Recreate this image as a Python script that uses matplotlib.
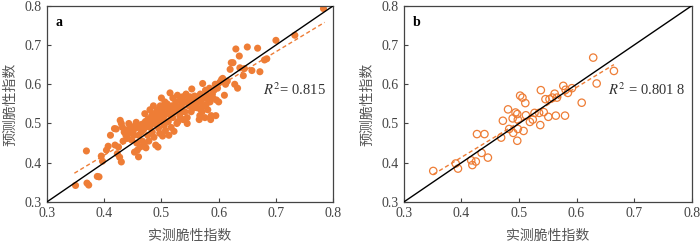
import numpy as np
import matplotlib.pyplot as plt

plt.rcParams['font.family'] = ['Liberation Serif', 'Noto Sans CJK SC']
plt.rcParams['mathtext.fontset'] = 'stix'

# 图a 数据 (实测, 预测)
a_pts = [
    (0.350, 0.342), (0.369, 0.430), (0.370, 0.348), (0.373, 0.343), (0.388, 0.365),
    (0.391, 0.364), (0.395, 0.417), (0.397, 0.404), (0.404, 0.432), (0.407, 0.442),
    (0.411, 0.470), (0.418, 0.487), (0.421, 0.486), (0.419, 0.445), (0.423, 0.423),
    (0.427, 0.414), (0.430, 0.402), (0.428, 0.508), (0.430, 0.500), (0.432, 0.490),
    (0.425, 0.440), (0.433, 0.455), (0.435, 0.478), (0.438, 0.470), (0.440, 0.462),
    (0.442, 0.485), (0.445, 0.475), (0.447, 0.490), (0.448, 0.458), (0.450, 0.480),
    (0.452, 0.470), (0.453, 0.427), (0.455, 0.488), (0.457, 0.450), (0.458, 0.432),
    (0.460, 0.415), (0.460, 0.470), (0.462, 0.490), (0.463, 0.440), (0.465, 0.478),
    (0.467, 0.455), (0.469, 0.485), (0.470, 0.445), (0.472, 0.505), (0.473, 0.438),
    (0.475, 0.495), (0.476, 0.470), (0.478, 0.455), (0.480, 0.535), (0.480, 0.490),
    (0.482, 0.502), (0.484, 0.478), (0.485, 0.515), (0.487, 0.465), (0.488, 0.525),
    (0.490, 0.498), (0.490, 0.445), (0.492, 0.510), (0.493, 0.535), (0.494, 0.440),
    (0.495, 0.488), (0.496, 0.520), (0.497, 0.475), (0.498, 0.545), (0.499, 0.505),
    (0.500, 0.530), (0.500, 0.565), (0.502, 0.468), (0.503, 0.515), (0.504, 0.540),
    (0.505, 0.495), (0.507, 0.482), (0.508, 0.525), (0.510, 0.550), (0.512, 0.505),
    (0.513, 0.470), (0.515, 0.535), (0.515, 0.578), (0.517, 0.490), (0.518, 0.545),
    (0.520, 0.515), (0.520, 0.565), (0.522, 0.480), (0.523, 0.530), (0.525, 0.555),
    (0.527, 0.500), (0.528, 0.572), (0.530, 0.540), (0.532, 0.520), (0.533, 0.560),
    (0.535, 0.548), (0.537, 0.568), (0.538, 0.510), (0.540, 0.555), (0.541, 0.530),
    (0.543, 0.575), (0.545, 0.515), (0.545, 0.500), (0.547, 0.560), (0.548, 0.545),
    (0.550, 0.568), (0.552, 0.530), (0.553, 0.588), (0.555, 0.555), (0.557, 0.540),
    (0.560, 0.548), (0.562, 0.565), (0.565, 0.555), (0.566, 0.510), (0.567, 0.520),
    (0.568, 0.575), (0.570, 0.560), (0.571, 0.530), (0.572, 0.602), (0.573, 0.545),
    (0.575, 0.565), (0.576, 0.515), (0.577, 0.585), (0.578, 0.548), (0.580, 0.572),
    (0.581, 0.535), (0.582, 0.560), (0.584, 0.590), (0.585, 0.555), (0.586, 0.510),
    (0.587, 0.520), (0.589, 0.575), (0.590, 0.565), (0.592, 0.585), (0.594, 0.600),
    (0.595, 0.520), (0.596, 0.560), (0.598, 0.590), (0.600, 0.555), (0.602, 0.605),
    (0.605, 0.612), (0.607, 0.615), (0.610, 0.572), (0.612, 0.600), (0.615, 0.608),
    (0.620, 0.638), (0.622, 0.655), (0.625, 0.655), (0.628, 0.600), (0.630, 0.690),
    (0.633, 0.590), (0.636, 0.672), (0.637, 0.642), (0.643, 0.622), (0.645, 0.640),
    (0.650, 0.695), (0.658, 0.635), (0.668, 0.692), (0.672, 0.632), (0.680, 0.662),
    (0.684, 0.665), (0.700, 0.712), (0.733, 0.725), (0.783, 0.793),
    (0.443, 0.500), (0.451, 0.492), (0.456, 0.503), (0.466, 0.498), (0.471, 0.525),
    (0.477, 0.512), (0.483, 0.520), (0.486, 0.545), (0.491, 0.528), (0.506, 0.555),
    (0.511, 0.540), (0.516, 0.520), (0.524, 0.545), (0.529, 0.505), (0.536, 0.530),
    (0.544, 0.555), (0.551, 0.545), (0.558, 0.570), (0.563, 0.540), (0.569, 0.535),
]
a_x = [p[0] for p in a_pts]
a_y = [p[1] for p in a_pts]
a_fit = (0.880, 0.067)   # 斜率, 截距
a_range = (0.348, 0.785)

# 图b 数据
b_x = [0.351, 0.390, 0.394, 0.417, 0.419, 0.425, 0.427, 0.435, 0.440, 0.446,
       0.469, 0.472, 0.481, 0.483, 0.489, 0.490, 0.494, 0.497, 0.498, 0.497,
       0.498, 0.502, 0.506, 0.508, 0.511, 0.512, 0.519, 0.524, 0.527, 0.535,
       0.537, 0.538, 0.543, 0.546, 0.551, 0.553, 0.558, 0.562, 0.564, 0.566,
       0.577, 0.580, 0.581, 0.585, 0.592, 0.609, 0.629, 0.635, 0.665]
b_y = [0.379, 0.398, 0.385, 0.406, 0.394, 0.403, 0.473, 0.425, 0.473, 0.413,
       0.464, 0.507, 0.536, 0.486, 0.513, 0.476, 0.528, 0.524, 0.510, 0.456,
       0.486, 0.571, 0.566, 0.481, 0.552, 0.521, 0.504, 0.510, 0.527, 0.527,
       0.496, 0.585, 0.529, 0.562, 0.517, 0.562, 0.566, 0.576, 0.520, 0.566,
       0.596, 0.520, 0.586, 0.578, 0.590, 0.553, 0.668, 0.602, 0.634]
b_fit = (0.892, 0.057)
b_range = (0.351, 0.665)

ticks = [0.3, 0.4, 0.5, 0.6, 0.7, 0.8]
orange = '#EE7D36'
grey = '#444444'

fig = plt.figure(figsize=(7, 2.43), dpi=100)
ax1 = fig.add_axes([0.067, 0.169, 0.409, 0.807])
ax2 = fig.add_axes([0.577, 0.169, 0.411, 0.807])

def style(ax, tag, r2text, r2pos):
    ax.plot([0.3, 0.8], [0.3, 0.8], color='black', lw=1.0, zorder=3)
    ax.set_xlim(0.3, 0.8)
    ax.set_ylim(0.3, 0.8)
    ax.set_xticks(ticks)
    ax.set_yticks(ticks)
    ax.set_xticklabels([f'{t:.1f}' for t in ticks])
    ax.set_yticklabels([f'{t:.1f}' for t in ticks])
    ax.tick_params(direction='in', length=3, labelsize=10, colors=grey, pad=4,
                   top=False, right=False)
    for s in ax.spines.values():
        s.set_color(grey)
        s.set_linewidth(0.9)
    ax.set_xlabel('实测脆性指数', fontsize=10, color='#555555',
                  family=['Noto Sans CJK SC'], labelpad=6)
    ax.set_ylabel('预测脆性指数', fontsize=10, color='#555555',
                  family=['Noto Sans CJK SC'], labelpad=5)
    ax.text(0.03, 0.95, tag, transform=ax.transAxes, fontsize=10,
            fontweight='bold', va='top', ha='left')
    ax.text(r2pos[0], r2pos[1], r2text, fontsize=10.5, va='center', ha='left',
            color='#333333')

ax1.scatter(a_x, a_y, s=26, color=orange, edgecolors='none', zorder=2)
fx = np.array(a_range)
ax1.plot(fx, a_fit[0] * fx + a_fit[1], color=orange, lw=1.0, ls=(0, (3, 2)), zorder=2)
style(ax1, 'a', r'$R^2$= 0.815', (0.678, 0.585))

ax2.scatter(b_x, b_y, s=28, facecolors='none', edgecolors=orange, linewidths=0.9, zorder=2)
fx = np.array(b_range)
ax2.plot(fx, b_fit[0] * fx + b_fit[1], color=orange, lw=1.0, ls=(0, (3, 2)), zorder=2)
style(ax2, 'b', r'$R^2$ = 0.801 8', (0.655, 0.585))

fig.savefig('out.png', dpi=100)
